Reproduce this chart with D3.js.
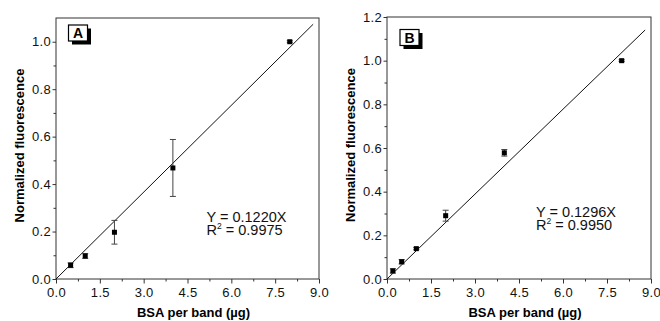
<!DOCTYPE html>
<html>
<head>
<meta charset="utf-8">
<script src="https://cdn.jsdelivr.net/npm/d3@7"></script>
<style>
  body { margin: 0; background: #fff; }
  svg { display: block; font-family: "Liberation Sans", Arial, sans-serif; }
</style>
</head>
<body>
<div id="chart"></div>
<script>
// DATA
var xTicks = [0, 1.5, 3, 4.5, 6, 7.5, 9];

var aX = [0.5, 1, 2, 4, 8];
var aY = [0.058, 0.097, 0.197, 0.468, 1.0];
var aErr = [0.01, 0.01, 0.05, 0.12, 0.004];
var aSlope = 0.1220;
var aYTicks = [0, 0.2, 0.4, 0.6, 0.8, 1.0];

var bX = [0.2, 0.5, 1, 2, 4, 8];
var bY = [0.037, 0.079, 0.139, 0.29, 0.578, 1.0];
var bErr = [0.01, 0.01, 0.005, 0.025, 0.015, 0.004];
var bSlope = 0.1296;
var bYTicks = [0, 0.2, 0.4, 0.6, 0.8, 1.0, 1.2];

var svg = d3.select('#chart').append('svg')
  .attr('width', 660)
  .attr('height', 321);

function drawPanel(opt) {
  var g = svg.append('g').attr('transform', 'translate(' + opt.left + ',' + opt.top + ')');
  var w = opt.width, h = opt.height;

  var xScale = d3.scaleLinear().domain([0, 9]).range([0, w]);
  var yScale = d3.scaleLinear().domain([0, opt.yMax]).range([h, 0]);

  // minor ticks
  var xMinor = d3.range(0.75, 9, 1.5);
  var yMinor = d3.range(0.1, opt.yMax, 0.2);

  g.append('g')
    .attr('transform', 'translate(0,' + h + ')')
    .call(d3.axisBottom(xScale).tickValues(xMinor).tickSize(2.5).tickFormat(''))
    .call(function (s) { s.select('.domain').remove(); });
  g.append('g')
    .call(d3.axisLeft(yScale).tickValues(yMinor).tickSize(2.5).tickFormat(''))
    .call(function (s) { s.select('.domain').remove(); });

  // major ticks + labels
  var xAxis = g.append('g')
    .attr('class', 'x axis')
    .attr('transform', 'translate(0,' + h + ')')
    .call(d3.axisBottom(xScale).tickValues(xTicks).tickSize(4.5).tickPadding(4).tickFormat(d3.format('.1f')));
  xAxis.select('.domain').remove();

  var yAxis = g.append('g')
    .attr('class', 'y axis')
    .call(d3.axisLeft(yScale).tickValues(opt.yTicks).tickSize(3.5).tickPadding(1.5).tickFormat(d3.format('.1f')));
  yAxis.select('.domain').remove();

  g.selectAll('.axis text')
    .style('font-size', '13px')
    .style('letter-spacing', '0.3px')
    .attr('fill', '#111');
  g.selectAll('.tick line').attr('stroke', '#333');

  // frame
  g.append('rect')
    .attr('width', w).attr('height', h)
    .attr('fill', 'none')
    .attr('stroke', '#333')
    .attr('stroke-width', 1);

  // fit line
  var xEnd = 8.8;
  g.append('line')
    .attr('x1', xScale(0)).attr('y1', yScale(0))
    .attr('x2', xScale(xEnd)).attr('y2', yScale(opt.slope * xEnd))
    .attr('stroke', '#111')
    .attr('stroke-width', 1);

  var pts = opt.xs.map(function (x, i) {
    return {x: x, y: opt.ys[i], e: opt.errs[i]};
  });

  // error bars
  var eb = g.selectAll('.err').data(pts).enter().append('g').attr('class', 'err')
    .attr('stroke', '#444').attr('stroke-width', 1);
  eb.append('line')
    .attr('x1', function (d) { return xScale(d.x); })
    .attr('x2', function (d) { return xScale(d.x); })
    .attr('y1', function (d) { return yScale(d.y + d.e); })
    .attr('y2', function (d) { return yScale(d.y - d.e); });
  eb.append('line')
    .attr('x1', function (d) { return xScale(d.x) - 3; })
    .attr('x2', function (d) { return xScale(d.x) + 3; })
    .attr('y1', function (d) { return yScale(d.y + d.e); })
    .attr('y2', function (d) { return yScale(d.y + d.e); });
  eb.append('line')
    .attr('x1', function (d) { return xScale(d.x) - 3; })
    .attr('x2', function (d) { return xScale(d.x) + 3; })
    .attr('y1', function (d) { return yScale(d.y - d.e); })
    .attr('y2', function (d) { return yScale(d.y - d.e); });

  // points
  g.selectAll('.pt').data(pts).enter().append('rect')
    .attr('class', 'pt')
    .attr('x', function (d) { return xScale(d.x) - 2.5; })
    .attr('y', function (d) { return yScale(d.y) - 2.5; })
    .attr('width', 5).attr('height', 5)
    .attr('fill', '#000');

  // panel letter box with shadow
  var lb = g.append('g').attr('transform', 'translate(' + opt.boxX + ',' + opt.boxY + ')');
  lb.append('rect').attr('x', 3.5).attr('y', 3.5).attr('width', 19).attr('height', 16).attr('fill', '#000');
  lb.append('rect').attr('x', 0).attr('y', 0).attr('width', 19).attr('height', 16)
    .attr('fill', '#fff').attr('stroke', '#000').attr('stroke-width', 1.2);
  lb.append('text').attr('x', 9.5).attr('y', 13).attr('text-anchor', 'middle')
    .style('font-size', '14px').style('font-weight', 'bold').text(opt.letter);

  // equation
  g.append('text')
    .attr('x', opt.eqX).attr('y', opt.eqY)
    .style('font-size', '14.5px').attr('fill', '#111')
    .text('Y = ' + opt.slope.toFixed(4) + 'X');
  var r = g.append('text')
    .attr('x', opt.eqX).attr('y', opt.eqY + 13)
    .style('font-size', '14.5px').attr('fill', '#111');
  r.append('tspan').text('R');
  r.append('tspan').attr('dy', -6).style('font-size', '8.5px').text('2');
  r.append('tspan').attr('dy', 6).text(' = ' + opt.r2);

  // axis titles
  g.append('text')
    .attr('x', w / 2 + 6).attr('y', h + 38)
    .attr('text-anchor', 'middle')
    .style('font-size', '13px').style('font-weight', 'bold')
    .text('BSA per band (\u00b5g)');
  g.append('text')
    .attr('transform', 'translate(-32,' + (h / 2 - 3) + ') rotate(-90)')
    .attr('text-anchor', 'middle')
    .style('font-size', '13px').style('font-weight', 'bold')
    .text('Normalized fluorescence');
}

drawPanel({
  left: 56, top: 18, width: 263, height: 261, yMax: 1.1,
  xs: aX, ys: aY, errs: aErr, slope: aSlope, yTicks: aYTicks,
  letter: 'A', boxX: 12.5, boxY: 7, eqX: 150.5, eqY: 203.5, r2: '0.9975'
});

drawPanel({
  left: 387, top: 17, width: 264, height: 262, yMax: 1.2,
  xs: bX, ys: bY, errs: bErr, slope: bSlope, yTicks: bYTicks,
  letter: 'B', boxX: 13, boxY: 12.5, eqX: 149, eqY: 200, r2: '0.9950'
});
</script>
</body>
</html>
